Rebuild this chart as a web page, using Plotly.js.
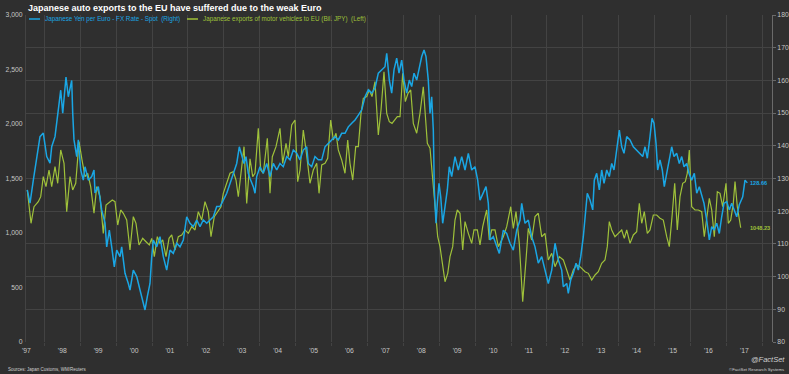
<!DOCTYPE html>
<html>
<head>
<meta charset="utf-8">
<script src="https://cdn.plot.ly/plotly-3.0.1.min.js"></script>
<style>
  html, body { margin: 0; padding: 0; background: #2f2f2f; }
  #chart { width: 789px; height: 374px; }
</style>
</head>
<body>
<div id="chart"></div>
<script>
// ---- Japanese Yen per Euro - FX Rate - Spot (right axis), time in decimal years
const fxYears = [1997.526,1997.602,1997.694,1997.788,1997.880,1997.972,1998.067,1998.159,1998.206,1998.298,
1998.390,1998.457,1998.513,1998.604,1998.669,1998.716,1998.763,1998.791,1998.827,1998.903,
1998.947,1999.014,1999.086,1999.134,1999.226,1999.320,1999.384,1999.412,1999.504,1999.599,
1999.691,1999.738,1999.811,1999.877,1999.950,2000.017,2000.109,2000.156,2000.248,2000.340,
2000.387,2000.479,2000.574,2000.666,2000.741,2000.805,2000.869,2000.944,2000.992,2001.036,
2001.131,2001.223,2001.315,2001.409,2001.501,2001.593,2001.688,2001.780,2001.872,2001.967,
2002.058,2002.150,2002.245,2002.337,2002.429,2002.524,2002.616,2002.708,2002.802,2002.894,
2002.986,2003.081,2003.173,2003.265,2003.359,2003.432,2003.499,2003.563,2003.618,2003.682,
2003.730,2003.822,2003.869,2003.916,2004.008,2004.100,2004.195,2004.287,2004.379,2004.474,
2004.565,2004.657,2004.752,2004.844,2004.936,2005.031,2005.123,2005.214,2005.309,2005.354,
2005.448,2005.540,2005.632,2005.727,2005.819,2005.911,2006.006,2006.097,2006.189,2006.284,
2006.376,2006.468,2006.563,2006.655,2006.747,2006.841,2006.933,2007.025,2007.120,2007.212,
2007.304,2007.398,2007.490,2007.538,2007.610,2007.677,2007.741,2007.816,2007.880,2007.955,
2008.019,2008.095,2008.167,2008.234,2008.298,2008.373,2008.446,2008.513,2008.577,2008.632,
2008.696,2008.744,2008.791,2008.836,2008.864,2008.911,2008.947,2008.994,2009.042,2009.097,
2009.162,2009.226,2009.281,2009.348,2009.440,2009.532,2009.627,2009.719,2009.811,2009.905,
2009.997,2010.072,2010.137,2010.228,2010.304,2010.368,2010.415,2010.507,2010.602,2010.674,
2010.786,2010.880,2010.972,2011.064,2011.159,2011.251,2011.298,2011.390,2011.482,2011.577,
2011.669,2011.760,2011.855,2011.947,2012.039,2012.134,2012.226,2012.318,2012.412,2012.457,
2012.552,2012.596,2012.663,2012.735,2012.811,2012.875,2012.942,2013.014,2013.061,2013.125,
2013.201,2013.276,2013.320,2013.387,2013.460,2013.526,2013.591,2013.666,2013.738,2013.805,
2013.869,2013.944,2014.017,2014.084,2014.148,2014.223,2014.315,2014.407,2014.501,2014.593,
2014.669,2014.733,2014.797,2014.872,2014.928,2014.983,2015.039,2015.086,2015.150,2015.214,
2015.270,2015.337,2015.409,2015.476,2015.540,2015.616,2015.688,2015.755,2015.819,2015.894,
2015.958,2016.033,2016.106,2016.173,2016.245,2016.312,2016.376,2016.451,2016.524,2016.591,
2016.655,2016.730,2016.802,2016.869,2016.933,2017.008,2017.081,2017.148,2017.220,2017.287,
2017.359,2017.454,2017.518,2017.582];
const fxValues = [126.5,122.5,129.5,135.6,142.8,143.9,136.7,134.7,139.7,142.8,
151,157,150,161,155,158,160,150,141.8,136.7,
141.8,132.6,129.5,133.6,129.5,130.6,132.6,125.6,127.5,120.4,
116.4,109.1,114.2,109.1,103,108.1,106.1,109.1,101,97.9,
95.9,102,100,95.9,92.8,89.8,93.9,97.9,106.1,111.2,
109.1,112.2,106.1,102,108.1,107.1,110.2,109.1,111.2,118.3,
116.3,115.3,117.3,115.3,117.3,116.3,117.3,118.3,121.4,121.4,
123.4,125.5,128.5,131.6,134.6,139.7,136.7,134.6,136.7,131.6,
130,127.5,125.5,130.6,133.6,131.6,134.6,130.6,134.6,132.6,
134.6,133.6,136.7,135.7,138.7,137.7,135.7,138.7,139.7,134.6,
133.6,136.7,135.7,135.7,139.7,140.8,141.8,142.8,141.8,143.8,
143.8,145.8,146.9,147.9,149.4,151,155,157.1,156.1,157.6,
162.2,163.2,164.2,168.3,160.1,156.1,163.2,166.8,162.2,166.2,
160.1,156.1,160.1,158.1,162.2,160.1,164.2,167.3,169.3,167.3,
160.1,149.9,155,144.8,126.5,116.3,122.4,128.5,124.4,116.3,
121.4,126.5,133.6,130.6,136.7,132.6,136.7,132.6,137.7,132.6,
133.6,129.5,123.4,125.5,127.5,122.4,111.2,112.2,109.1,107.1,
114.2,113.2,110.2,108.1,114.2,117.3,122.4,116.3,117.3,112.2,
109.1,104.1,106.1,102,97.9,102,110.2,105.1,102,96.9,
97.9,94.9,99,101,104.1,102,106.1,112.2,117.3,125.5,
123.4,120.4,129.5,131.6,126.5,132.6,128.5,132.6,130.6,134.6,
132.6,139.7,144.8,139.7,137.7,142.8,141.8,139.7,138.7,137.7,
136.7,139.7,136.2,142.8,148.4,146.9,140.8,132.6,135.7,132.6,
127.5,131.6,135.7,139.7,136.7,137.7,134.6,136.7,133.6,134.6,
131.6,129.5,131.6,125.5,127.5,124.4,122.4,117.3,111.2,115.3,
114.2,116.3,113.2,118.3,122.4,122.9,120.4,122.4,120.4,118.3,
122,124.4,129.5,128.66];

// ---- Japanese exports of motor vehicles to EU (Bil. JPY) (left axis)
const exportYears = [1997.526,1997.630,1997.713,1997.833,1997.900,1997.972,1998.047,1998.131,1998.206,1998.298,
1998.373,1998.457,1998.549,1998.624,1998.716,1998.791,1998.875,1998.967,1999.050,1999.134,
1999.209,1999.292,1999.384,1999.460,1999.552,1999.643,1999.719,1999.783,1999.894,1999.969,
2000.045,2000.128,2000.201,2000.295,2000.387,2000.479,2000.554,2000.638,2000.741,2000.833,
2000.925,2000.992,2001.064,2001.148,2001.223,2001.298,2001.390,2001.474,2001.549,2001.641,
2001.733,2001.827,2001.919,2002.011,2002.106,2002.198,2002.290,2002.384,2002.476,2002.568,
2002.643,2002.735,2002.830,2002.922,2002.986,2003.081,2003.173,2003.265,2003.340,2003.404,
2003.479,2003.563,2003.638,2003.730,2003.805,2003.869,2003.961,2004.028,2004.100,2004.148,
2004.212,2004.287,2004.351,2004.454,2004.565,2004.641,2004.733,2004.797,2004.891,2004.983,
2005.058,2005.123,2005.214,2005.290,2005.401,2005.493,2005.588,2005.652,2005.727,2005.819,
2005.894,2005.978,2006.050,2006.125,2006.189,2006.284,2006.376,2006.451,2006.515,2006.591,
2006.674,2006.747,2006.822,2006.886,2006.981,2007.053,2007.128,2007.212,2007.304,2007.379,
2007.462,2007.538,2007.610,2007.685,2007.769,2007.833,2007.908,2007.983,2008.056,2008.131,
2008.206,2008.279,2008.373,2008.465,2008.557,2008.624,2008.669,2008.744,2008.819,2008.883,
2008.958,2009.022,2009.097,2009.162,2009.237,2009.301,2009.376,2009.440,2009.504,2009.579,
2009.655,2009.719,2009.811,2009.905,2009.969,2010.061,2010.137,2010.212,2010.276,2010.323,
2010.396,2010.462,2010.554,2010.646,2010.694,2010.786,2010.880,2010.992,2011.064,2011.139,
2011.231,2011.326,2011.418,2011.482,2011.577,2011.669,2011.760,2011.855,2011.947,2012.039,
2012.134,2012.226,2012.345,2012.457,2012.552,2012.643,2012.735,2012.830,2012.922,2013.061,
2013.153,2013.248,2013.340,2013.432,2013.526,2013.618,2013.682,2013.738,2013.805,2013.897,
2013.989,2014.084,2014.156,2014.223,2014.315,2014.407,2014.501,2014.574,2014.641,2014.713,
2014.797,2014.872,2014.964,2015.058,2015.150,2015.242,2015.337,2015.409,2015.485,2015.560,
2015.632,2015.708,2015.783,2015.855,2015.911,2015.967,2016.033,2016.125,2016.217,2016.312,
2016.384,2016.451,2016.524,2016.591,2016.663,2016.747,2016.822,2016.897,2016.989,2017.053,
2017.120,2017.192,2017.240,2017.304,2017.398];
const exportValues = [1395,1089,1241,1287,1333,1517,1425,1578,1425,1609,
1456,1762,1639,1196,1517,1395,1456,1838,1670,1517,
1548,1425,1181,1425,1333,997,1257,1272,1303,1287,
1073,1211,1181,1119,844,1150,1089,890,951,920,
890,951,783,966,905,936,783,951,982,844,
966,982,1028,997,1058,1028,1196,1119,1287,1196,
966,1150,1196,1241,1364,1456,1548,1563,1486,1333,
1578,1792,1272,1680,1517,1548,1960,1578,1548,1700,
1869,1364,1700,1792,1960,1639,1823,1700,1991,2037,
1471,1578,1945,1762,1456,1578,1639,1364,1624,1639,
1685,2037,1853,1915,1762,1670,1548,1853,1639,1486,
1792,1792,2098,2236,2251,2312,2251,2388,1899,2128,
2480,2098,2021,2006,2037,2067,2067,2465,2205,2282,
2312,2006,1915,2098,2342,2037,1823,1777,1486,1211,
966,875,691,553,630,783,875,1119,1211,1181,
844,1104,997,905,1028,1028,890,1058,1150,1211,
936,1028,1028,875,905,966,1058,1241,1043,1196,
905,370,753,1043,936,1150,1181,966,997,753,
814,691,783,753,661,569,661,707,691,645,
630,569,615,645,722,753,875,1104,1028,966,
997,1028,951,1028,905,982,1012,1272,1089,1196,
997,1028,1165,1165,1135,1119,966,875,1150,1456,
1028,1333,1456,1471,1548,1762,1241,1211,1211,1196,
966,1150,1318,1211,966,1379,1364,1241,1456,1089,
1119,1272,1471,1241,1048.23];

// ---- axis labels
const labelYears = [1997,1998,1999,2000,2001,2002,2003,2004,2005,2006,2007,2008,2009,2010,2011,2012,2013,2014,2015,2016,2017];
const yearLabels = ["'97","'98","'99","'00","'01","'02","'03","'04","'05","'06","'07","'08","'09","'10","'11","'12","'13","'14","'15","'16","'17"];
const leftTicks = [0,500,1000,1500,2000,2500,3000];
const rightTicks = [80,90,100,110,120,130,140,150,160,170,180];

const titleText = 'Japanese auto exports to the EU have suffered due to the weak Euro';
const fxName = 'Japanese Yen per Euro - FX Rate - Spot\u00a0\u00a0(Right)';
const exportName = 'Japanese exports of motor vehicles to EU (Bil. JPY)\u00a0\u00a0(Left)';

const BLUE = '#1aa6e4';
const GREEN = '#9fc13a';
const GRID = '#434343';
const FONT = 'Liberation Sans, Arial, sans-serif';
const TICKCOL = '#c6c6c6';

const fxLast = fxValues[fxValues.length - 1];
const expLast = exportValues[exportValues.length - 1];
const lastX = fxYears[fxYears.length - 1];

const traces = [
  { x: exportYears, y: exportValues, type: 'scatter', mode: 'lines', name: exportName,
    line: { color: GREEN, width: 1.2 }, xaxis: 'x', yaxis: 'y' },
  { x: fxYears, y: fxValues, type: 'scatter', mode: 'lines', name: fxName,
    line: { color: BLUE, width: 1.5 }, xaxis: 'x', yaxis: 'y2' }
];

// plot area geometry in px (for placing legend/footer items in paper coords)
const W = 789, H = 374, ML = 26, MR = 17, MT = 15, MB = 32;
const PW = W - ML - MR, PH = H - MT - MB;
const px = v => (v - ML) / PW;
const py = v => (H - MB - v) / PH;

const layout = {
  width: W, height: H,
  paper_bgcolor: '#2f2f2f', plot_bgcolor: '#2f2f2f',
  margin: { l: ML, r: MR, t: MT, b: MB, pad: 0 },
  showlegend: false,
  hovermode: false,
  font: { family: FONT, color: TICKCOL, size: 6.8 },
  title: { text: '<b>' + titleText + '</b>', x: 28 / W, xanchor: 'left', xref: 'container',
           y: 1 - 8 / H, yanchor: 'middle', yref: 'container',
           font: { family: FONT, size: 9, color: '#ffffff' } },
  xaxis: {
    type: 'linear', range: [1997.49, 2018.27],
    tickmode: 'array', tickvals: labelYears.map(y => y + 0.5), ticktext: yearLabels,
    showgrid: false, zeroline: false, showline: false, ticks: '',
    ticklabelstandoff: 3,
    tickfont: { family: FONT, size: 6.8, color: TICKCOL },
    minor: { tickmode: 'array', tickvals: labelYears.map(y => y + 1),
             showgrid: true, gridcolor: GRID, gridwidth: 1,
             ticks: 'outside', ticklen: 3, tickcolor: GRID, tickwidth: 1 }
  },
  yaxis: {
    range: [0, 3000], tickmode: 'array', tickvals: leftTicks, tickformat: ',',
    showgrid: false, zeroline: false, showline: true, linecolor: GRID, linewidth: 1,
    ticks: '', ticklabelstandoff: 1,
    tickfont: { family: FONT, size: 6.8, color: TICKCOL }
  },
  yaxis2: {
    range: [80, 180], overlaying: 'y', side: 'right', tickmode: 'array', tickvals: rightTicks,
    showgrid: true, gridcolor: GRID, gridwidth: 1, zeroline: false,
    showline: true, linecolor: '#6a6a6a', linewidth: 1,
    ticks: 'outside', ticklen: 3, tickcolor: '#6a6a6a',
    tickfont: { family: FONT, size: 6.8, color: TICKCOL }
  },
  shapes: [
    { type: 'line', xref: 'paper', yref: 'paper', x0: px(29), x1: px(40), y0: py(19), y1: py(19),
      line: { color: BLUE, width: 1.5 } },
    { type: 'line', xref: 'paper', yref: 'paper', x0: px(187), x1: px(198), y0: py(19), y1: py(19),
      line: { color: GREEN, width: 1.5 } }
  ],
  annotations: [
    { text: fxName, xref: 'paper', yref: 'paper', x: px(43), y: py(19), xanchor: 'left', yanchor: 'middle',
      showarrow: false, font: { family: FONT, size: 6.3, color: BLUE } },
    { text: exportName, xref: 'paper', yref: 'paper', x: px(201), y: py(19), xanchor: 'left', yanchor: 'middle',
      showarrow: false, font: { family: FONT, size: 6.3, color: GREEN } },
    { text: '<b>' + fxLast.toFixed(2) + '</b>', xref: 'x', yref: 'y2', x: lastX, y: fxLast,
      xanchor: 'left', yanchor: 'middle', xshift: 1, showarrow: false,
      font: { family: FONT, size: 5.6, color: BLUE } },
    { text: '<b>' + expLast.toFixed(2) + '</b>', xref: 'x', yref: 'y', x: lastX, y: expLast,
      xanchor: 'left', yanchor: 'middle', xshift: 1, showarrow: false,
      font: { family: FONT, size: 5.6, color: GREEN } },
    { text: 'Sources: Japan Customs, WM/Reuters', xref: 'paper', yref: 'paper', x: px(6), y: py(369),
      xanchor: 'left', yanchor: 'middle', showarrow: false,
      font: { family: FONT, size: 4.5, color: '#cfcfcf' } },
    { text: '<i>@FactSet</i>', xref: 'paper', yref: 'paper', x: px(787), y: py(359),
      xanchor: 'right', yanchor: 'middle', showarrow: false,
      font: { family: FONT, size: 7.5, color: '#d0d0d0' } },
    { text: '\u00a9FactSet Research Systems', xref: 'paper', yref: 'paper', x: px(786), y: py(369),
      xanchor: 'right', yanchor: 'middle', showarrow: false,
      font: { family: FONT, size: 4.3, color: '#cfcfcf' } }
  ]
};

Plotly.newPlot('chart', traces, layout, { staticPlot: true, displayModeBar: false });
</script>
</body>
</html>
